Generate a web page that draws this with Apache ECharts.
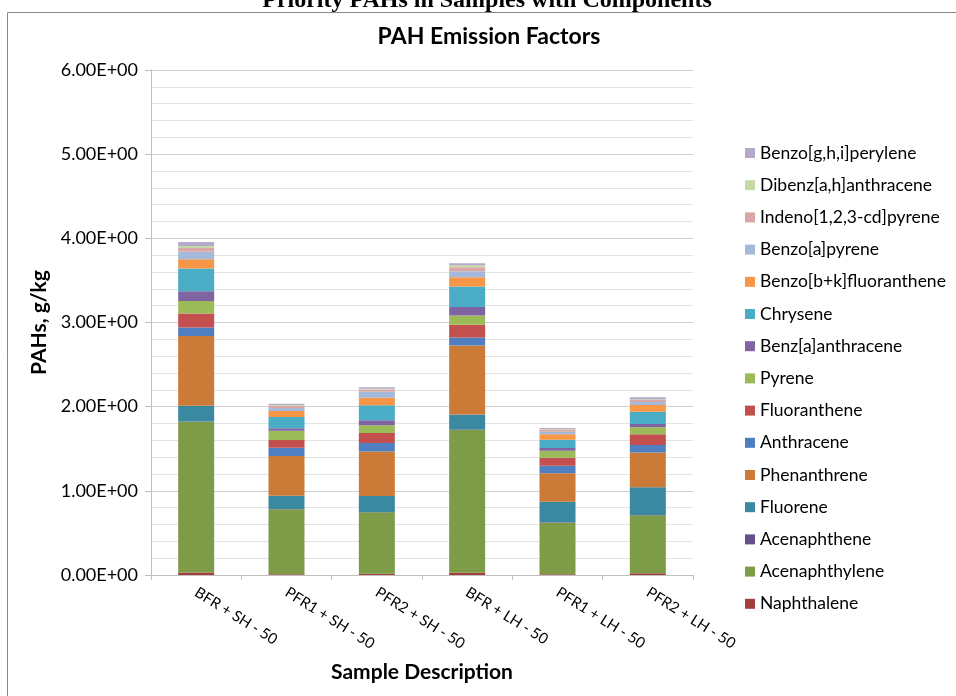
<!DOCTYPE html>
<html>
<head>
<meta charset="utf-8">
<script src="https://cdn.jsdelivr.net/npm/echarts@6/dist/echarts.min.js"></script>
<style>
html,body{margin:0;padding:0;background:#fff;}
#chart{width:956px;height:696px;}
</style>
</head>
<body>
<div id="chart"></div>
<script>
const categories = ['BFR + SH - 50', 'PFR1 + SH - 50', 'PFR2 + SH - 50', 'BFR + LH - 50', 'PFR1 + LH - 50', 'PFR2 + LH - 50'];

const naphthalene      = [0.030, 0.010, 0.015, 0.027, 0.008, 0.020];
const acenaphthylene   = [1.790, 0.770, 0.730, 1.696, 0.613, 0.690];
const acenaphthene     = [0.005, 0.003, 0.003, 0.005, 0.006, 0.004];
const fluorene         = [0.185, 0.160, 0.190, 0.180, 0.244, 0.330];
const phenanthrene     = [0.830, 0.470, 0.530, 0.820, 0.337, 0.410];
const anthracene       = [0.100, 0.100, 0.100, 0.095, 0.090, 0.090];
const fluoranthene     = [0.166, 0.090, 0.120, 0.150, 0.095, 0.127];
const pyrene           = [0.150, 0.110, 0.090, 0.110, 0.083, 0.083];
const benzAanthracene  = [0.115, 0.030, 0.060, 0.100, 0.032, 0.040];
const chrysene         = [0.270, 0.135, 0.180, 0.245, 0.100, 0.146];
const benzoBKfluor     = [0.110, 0.070, 0.088, 0.110, 0.063, 0.080];
const benzoApyrene     = [0.090, 0.036, 0.070, 0.070, 0.032, 0.035];
const indenoPyrene     = [0.043, 0.028, 0.027, 0.048, 0.024, 0.024];
const dibenzAnthracene = [0.024, 0.008, 0.010, 0.024, 0.007, 0.010];
const benzoGHIperylene = [0.047, 0.016, 0.017, 0.023, 0.012, 0.022];

const seriesNames = ['Naphthalene', 'Acenaphthylene', 'Acenaphthene', 'Fluorene', 'Phenanthrene', 'Anthracene', 'Fluoranthene', 'Pyrene', 'Benz[a]anthracene', 'Chrysene', 'Benzo[b+k]fluoranthene', 'Benzo[a]pyrene', 'Indeno[1,2,3-cd]pyrene', 'Dibenz[a,h]anthracene', 'Benzo[g,h,i]perylene'];
const seriesData = [naphthalene, acenaphthylene, acenaphthene, fluorene, phenanthrene, anthracene, fluoranthene, pyrene, benzAanthracene, chrysene, benzoBKfluor, benzoApyrene, indenoPyrene, dibenzAnthracene, benzoGHIperylene];
const seriesColors = ['#A23F3D', '#7E9B48', '#674F8C', '#3A89A1', '#CC7A37', '#4F7FC0', '#C3504E', '#9BBB59', '#8064A2', '#4BACC6', '#F79646', '#A5B9DA', '#DAA6A6', '#C5D9A5', '#B7A9CB'];

const FONT = 'Lato';

function sci(v) {
  const parts = v.toExponential(2).split('e');
  const exp = parseInt(parts[1], 10);
  const sign = exp < 0 ? '-' : '+';
  const e = String(Math.abs(exp)).padStart(2, '0');
  return parts[0].toUpperCase() + 'E' + sign + e;
}

const chart = echarts.init(document.getElementById('chart'), null, {renderer: 'canvas'});

const option = {
  animation: false,
  backgroundColor: '#fff',
  title: [
    {
      text: 'PAH Emission Factors',
      left: 484, top: 20, textAlign: 'center',
      textStyle: {fontFamily: FONT, fontWeight: 'bold', fontSize: 23, color: '#000'}
    },
    {
      text: 'Priority PAHs in Samples with Components',
      left: 482, top: -16, textAlign: 'center',
      textStyle: {fontFamily: 'Liberation Serif', fontWeight: 'bold', fontSize: 24, color: '#000'}
    }
  ],
  graphic: [
    {
      type: 'rect', silent: true,
      shape: {x: 7.5, y: 12.5, width: 980, height: 720},
      style: {fill: 'none', stroke: '#868686', lineWidth: 1}
    }
  ],
  legend: {
    orient: 'vertical',
    left: 740, top: 139,
    itemWidth: 10, itemHeight: 10, itemGap: 14.2,
    icon: 'rect',
    data: seriesNames.slice().reverse(),
    textStyle: {fontFamily: FONT, fontSize: 17.5, color: '#000', lineHeight: 18}
  },
  grid: {left: 151, right: 263, top: 70, bottom: 121, containLabel: false},
  xAxis: {
    type: 'category',
    data: categories,
    name: 'Sample Description',
    nameLocation: 'middle',
    nameGap: 87,
    nameTextStyle: {fontFamily: FONT, fontWeight: 'bold', fontSize: 21, color: '#000'},
    axisLine: {show: true, lineStyle: {color: '#BFBFBF', width: 1}},
    axisTick: {show: true, length: 5, lineStyle: {color: '#BFBFBF'}},
    axisLabel: {rotate: -32, margin: 16, fontFamily: FONT, fontSize: 15, color: '#000', interval: 0}
  },
  yAxis: {
    type: 'value',
    min: 0, max: 6, interval: 1,
    name: 'PAHs, g/kg',
    nameLocation: 'middle',
    nameGap: 94,
    nameTextStyle: {fontFamily: FONT, fontWeight: 'bold', fontSize: 21, color: '#000'},
    axisLine: {show: true, lineStyle: {color: '#BFBFBF', width: 1}},
    axisTick: {show: true, length: 6, lineStyle: {color: '#BFBFBF'}},
    axisLabel: {formatter: sci, margin: 13, fontFamily: FONT, fontSize: 18, color: '#000'},
    splitLine: {show: true, lineStyle: {color: '#CFCFCF', width: 1}},
    minorTick: {show: false, splitNumber: 5},
    minorSplitLine: {show: true, lineStyle: {color: '#E3E3E3', width: 1}}
  },
  series: seriesNames.map((name, i) => ({
    name: name,
    type: 'bar',
    stack: 'total',
    barWidth: 36,
    data: seriesData[i],
    itemStyle: {color: seriesColors[i]}
  }))
};

chart.setOption(option);
</script>
</body>
</html>
